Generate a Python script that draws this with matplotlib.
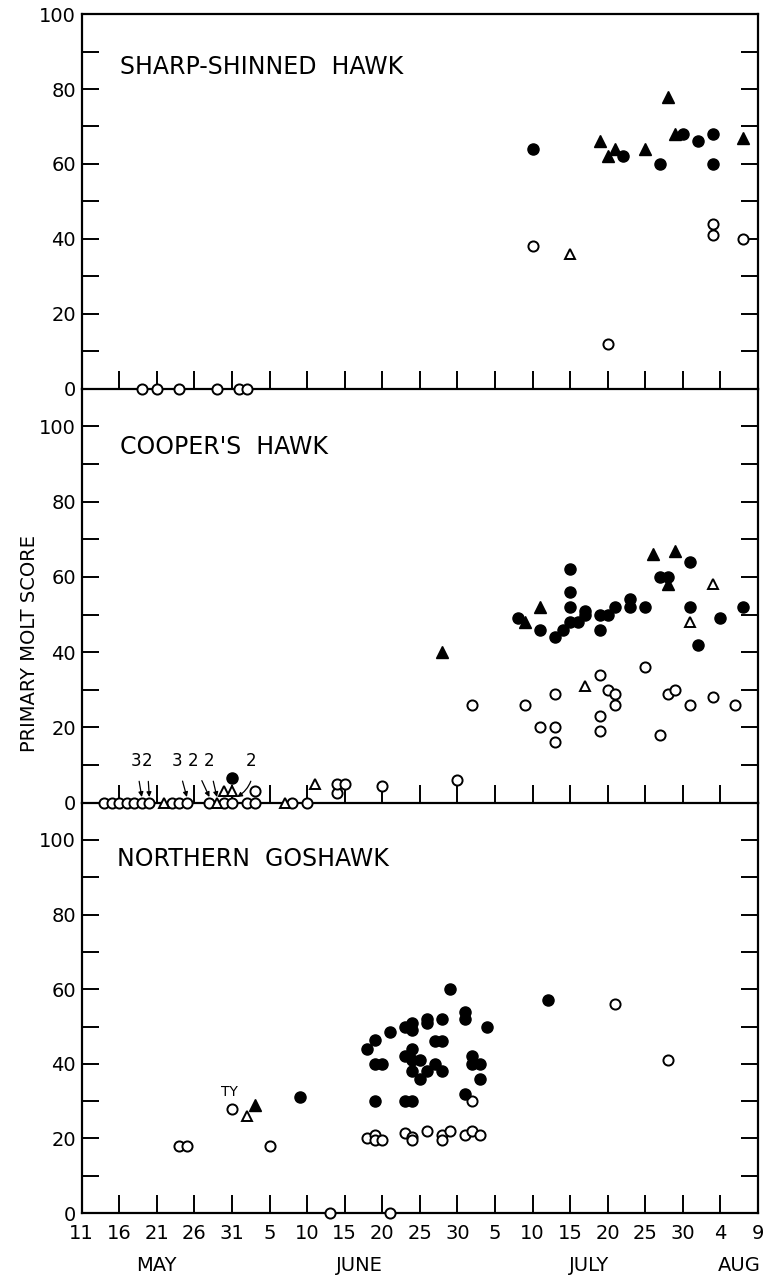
import datetime
import matplotlib
matplotlib.use("Agg")
import matplotlib.pyplot as plt

# x values are days counted from 11 May (0 = 11 May, 90 = 9 Aug)
tick_days = list(range(0, 91, 5))
months = ["MAY", "JUNE", "JULY", "AUG"]
month_days = [10, 37, 67.5, 87.5]

# Sharp-shinned Hawk
ss_oc_day = [8, 10, 13, 18, 21, 22, 60, 70, 84, 84, 88]
ss_oc_score = [0, 0, 0, 0, 0, 0, 38, 12, 44, 41, 40]
ss_ot_day = [65]
ss_ot_score = [36]
ss_fc_day = [60, 72, 77, 80, 82, 84, 84]
ss_fc_score = [64, 62, 60, 68, 66, 68, 60]
ss_ft_day = [69, 70, 71, 75, 78, 79, 88]
ss_ft_score = [66, 62, 64, 64, 78, 68, 67]

# Cooper's Hawk
ch_oc_day = [3, 4, 5, 6, 7, 8, 9, 12, 13, 14, 17, 19, 20, 22, 23, 28, 30,
             23, 34, 34, 35, 40,
             50, 52, 59, 61, 63, 63, 63, 69, 69, 69, 70, 71, 71, 75, 77, 78,
             79, 81, 84, 87]
ch_oc_score = [0, 0, 0, 0, 0, 0, 0, 0, 0, 0, 0, 0, 0, 0, 0, 0, 0,
               3, 2.5, 5, 5, 4.5,
               6, 26, 26, 20, 20, 16, 29, 34, 23, 19, 30, 29, 26, 36, 18, 29,
               30, 26, 28, 26]
ch_ot_day = [11, 18, 27, 19, 20, 31, 67, 81, 84]
ch_ot_score = [0, 0, 0, 3, 3, 5, 31, 48, 58]
ch_fc_day = [20, 58, 61, 63, 64, 65, 65, 65, 65, 66, 67, 67, 69, 69, 70, 71,
             73, 73, 75, 77, 78, 81, 81, 82, 85, 88]
ch_fc_score = [6.5, 49, 46, 44, 46, 62, 56, 52, 48, 48, 51, 50, 50, 46, 50, 52,
               54, 52, 52, 60, 60, 64, 52, 42, 49, 52]
ch_ft_day = [48, 59, 61, 76, 78, 79]
ch_ft_score = [40, 48, 52, 66, 58, 67]
ch_count_labels = ["3", "2", "3", "2", "2", "2"]
ch_count_days = [8, 9, 14, 17, 18, 20]

# Northern Goshawk
ng_oc_day = [13, 14, 20, 25, 33, 41, 38, 39, 39, 40, 43, 44, 44, 46, 48, 48,
             49, 51, 52, 52, 53, 71, 78]
ng_oc_score = [18, 18, 28, 18, 0, 0, 20, 21, 19.5, 19.5, 21.5, 20.5, 19.5, 22,
               21, 19.5, 22, 21, 22, 30, 21, 56, 41]
ng_ot_day = [22]
ng_ot_score = [26]
ng_fc_day = [29, 38, 39, 41, 39, 40, 39, 43, 44, 43, 44, 44, 44, 43, 44, 45,
             44, 45, 46, 46, 46, 47, 48, 47, 48, 48, 49, 51, 51, 51, 52, 52,
             53, 53, 54, 62]
ng_fc_score = [31, 44, 46.5, 48.5, 40, 40, 30, 30, 30, 50, 51, 49, 44, 42, 41,
               41, 38, 36, 38, 52, 51, 46, 46, 40, 38, 52, 60, 54, 52, 32, 42,
               40, 40, 36, 50, 57]
ng_ft_day = [23]
ng_ft_score = [29]


def tick_label(d):
    return str((datetime.date(1985, 5, 11) + datetime.timedelta(days=d)).day)


def draw(ax, oc, ot, fc, ft):
    kw = dict(ls="none", clip_on=False, zorder=4)
    ax.plot(oc[0], oc[1], marker="o", ms=7.3, mfc="white", mec="black", mew=1.4, **kw)
    ax.plot(ot[0], ot[1], marker="^", ms=7.5, mfc="white", mec="black", mew=1.4, **kw)
    ax.plot(fc[0], fc[1], marker="o", ms=8, color="black", **kw)
    ax.plot(ft[0], ft[1], marker="^", ms=8.5, color="black", **kw)


fig = plt.figure(figsize=(7.67, 12.8), dpi=100)
left, width = 0.1065, 0.8817
ax1 = fig.add_axes([left, 0.6963, width, 0.2927])
ax2 = fig.add_axes([left, 0.3729, width, 0.3234])
ax3 = fig.add_axes([left, 0.0523, width, 0.3206])

draw(ax1, (ss_oc_day, ss_oc_score), (ss_ot_day, ss_ot_score),
     (ss_fc_day, ss_fc_score), (ss_ft_day, ss_ft_score))
draw(ax2, (ch_oc_day, ch_oc_score), (ch_ot_day, ch_ot_score),
     (ch_fc_day, ch_fc_score), (ch_ft_day, ch_ft_score))
draw(ax3, (ng_oc_day, ng_oc_score), (ng_ot_day, ng_ot_score),
     (ng_fc_day, ng_fc_score), (ng_ft_day, ng_ft_score))

for ax, top in [(ax1, 100), (ax2, 110), (ax3, 110)]:
    ax.patch.set_visible(False)
    ax.set_xlim(0, 90)
    ax.set_ylim(0, top)
    for s in ax.spines.values():
        s.set_linewidth(1.6)
    if ax is not ax1:
        ax.spines["top"].set_visible(False)
    ax.set_xticks(tick_days)
    ax.set_yticks(range(0, 101, 20))
    ax.set_yticks(range(10, top + 1, 10), minor=True)
    ax.tick_params(axis="both", which="both", direction="in", width=1.4,
                   right=True, labelright=False, labelsize=14, pad=4)
    ax.tick_params(axis="y", which="both", length=12)
    ax.tick_params(axis="x", length=13)
    ax.tick_params(axis="x", labelbottom=False)

ax3.set_xticklabels([tick_label(d) for d in tick_days])
ax3.tick_params(axis="x", labelbottom=True, pad=8)

for m, d in zip(months, month_days):
    ax3.text(d, -0.128, m, transform=ax3.get_xaxis_transform(),
             ha="center", va="center", fontsize=14)

ax1.text(5.1, 86, "SHARP-SHINNED  HAWK", fontsize=17, va="center")
ax2.text(5.1, 94.5, "COOPER'S  HAWK", fontsize=17, va="center")
ax3.text(4.7, 95, "NORTHERN  GOSHAWK", fontsize=17, va="center")

# counts of overlapping birds
text_days = [7.2, 8.7, 12.7, 14.8, 16.9, 22.6]
for lab, d, td in zip(ch_count_labels, ch_count_days, text_days):
    rad = -0.35 if td > d else 0
    ax2.annotate(lab, xy=(d + (0.7 if td > d else 0), 1.5), xytext=(td, 11),
                 ha="center", va="center", fontsize=12,
                 arrowprops=dict(arrowstyle="-|>", lw=0.9, color="black",
                                 mutation_scale=7, shrinkA=6, shrinkB=0,
                                 connectionstyle="arc3,rad=%s" % rad))

ax3.text(19.7, 32.5, "TY", fontsize=10, ha="center", va="center")

fig.text(0.039, 0.497, "PRIMARY MOLT SCORE", rotation=90, fontsize=14,
         ha="center", va="center")

fig.savefig("out.png", dpi=100)
